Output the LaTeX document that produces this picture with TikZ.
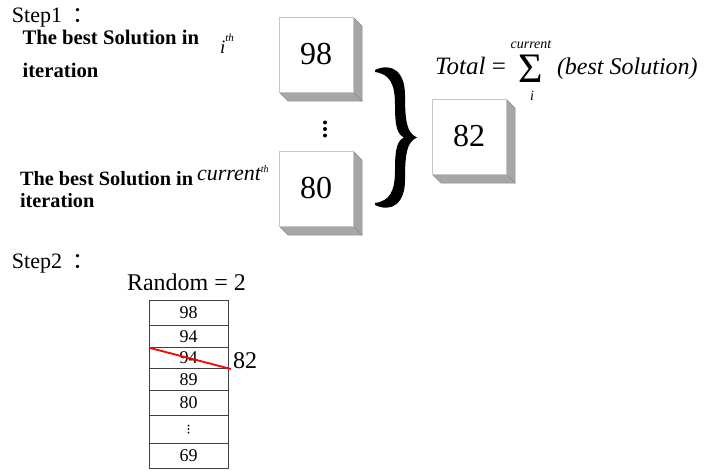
\documentclass[tikz,border=0pt]{standalone}
\usepackage{fontspec}
\setmainfont{Liberation Serif}
\newfontfamily\cjk{Noto Sans CJK SC}
\newcommand\fs[1]{\fontsize{#1}{#1}\selectfont}
\tikzset{
  sidegray/.style={fill=black!35, draw=black!45, line width=0.5pt},
  frontface/.style={draw=black!22, fill=white, line width=0.8pt, minimum width=74pt, minimum height=75pt, inner sep=0pt, font=\fs{32}},
  txt/.style={inner sep=0pt, outer sep=0pt},
  cell/.style={draw=black!75, line width=0.8pt, minimum width=79pt, inner sep=0pt, font=\fs{18}},
  bigdot/.style={fill=black},
}
\newcommand\solbox[4]{%
  \fill[sidegray] (#2+74,#3) -- (#2+83,#3+9) -- (#2+83,#3+84) -- (#2+74,#3+75) -- cycle;
  \fill[sidegray] (#2,#3+75) -- (#2+74,#3+75) -- (#2+83,#3+84) -- (#2+9,#3+84) -- cycle;
  \node[frontface] (#1) at (#2+37,#3+37.5) {#4};
}
\begin{document}
\begin{tikzpicture}[x=1pt,y=-1pt]
\useasboundingbox (0,0) rectangle (704,471);
% Step 1
\node[txt,anchor=base west,font=\fs{22}] (step1) at (12,22) {Step1\hspace{10pt}{\cjk：}};
\node[txt,anchor=base west,font=\fs{20.7}\bfseries] (t1a) at (22.5,44.5) {The best Solution in};
\node[txt,anchor=base west,font=\fs{20.7}\bfseries] (t1b) at (22.5,77.5) {iteration};
\node[txt,anchor=base west,font=\fs{19}\itshape] (ith) at (220,53) {i\raisebox{12pt}{\fs{11}th}};
\node[txt,anchor=base west,font=\fs{20.3}\bfseries] (t2a) at (20,185) {The best Solution in};
\node[txt,anchor=base west,font=\fs{20.3}\bfseries] (t2b) at (20,207) {iteration};
\node[txt,anchor=base west,font=\fs{22}\itshape] (cth) at (197,180) {current\raisebox{8pt}{\fs{10}th}};
% boxes
\solbox{b98}{279}{17}{98}
\solbox{b80}{279}{151}{80}
\solbox{b82}{432}{99}{82}
% dots between boxes
\fill[bigdot] (325,122.5) circle (2);
\fill[bigdot] (325,129) circle (2);
\fill[bigdot] (325,135.5) circle (2);
% brace
\fill (375,70) .. controls (392,62) and (405,72) .. (405,95)
  .. controls (405,122) and (407,133) .. (417,137.5)
  .. controls (407,142) and (405,153) .. (405,180)
  .. controls (405,203) and (392,213) .. (375,205)
  -- (375,203)
  .. controls (390,201) and (395,191) .. (395,170)
  .. controls (395,149) and (397,141) .. (404,137.5)
  .. controls (397,134) and (395,126) .. (395,105)
  .. controls (395,84) and (390,74) .. (375,72) -- cycle;
% formula
\node[txt,anchor=base west,font=\fs{25}] (total) at (435,74) {\itshape Total \upshape=};
\node[txt,anchor=base,font=\fs{42},text depth=0pt] (sum) at (530.5,82.5) {Σ};
\node[txt,anchor=base,font=\fs{14}\itshape] (sup) at (531,48) {current};
\node[txt,anchor=base,font=\fs{14}\itshape] (sub) at (532,100.5) {i};
\node[txt,anchor=base west,font=\fs{24}\itshape] (best) at (557,74) {(best Solution)};
% Step 2
\node[txt,anchor=base west,font=\fs{22}] (step2) at (12,268) {Step2\hspace{10pt}{\cjk：}};
\node[txt,anchor=base west,font=\fs{24}] (rnd) at (127,290) {Random = 2};
\node[cell,minimum height=24.3pt] (r1) at (188.5,312.85) {98};
\node[cell,minimum height=22.3pt] (r2) at (188.5,336.15) {94};
\node[cell,minimum height=21pt] (r3) at (188.5,357.8) {94};
\node[cell,minimum height=22.4pt] (r4) at (188.5,379.5) {89};
\node[cell,minimum height=24.3pt] (r5) at (188.5,402.85) {80};
\node[cell,minimum height=28.3pt] (r6) at (188.5,429.15) {};
\node[cell,minimum height=25pt] (r7) at (188.5,455.8) {69};
\fill (r6.center) ++(0,-3.5) circle (1);
\fill (r6.center) circle (1);
\fill (r6.center) ++(0,3.5) circle (1);
\coordinate (ra) at (149,347.7);
\coordinate (rb) at (231,369);
\draw[red, line width=1.8pt] (ra) -- (rb);
\node[txt,anchor=base west,font=\fs{24}] (n82) at (233,368) {82};
\end{tikzpicture}
\end{document}
